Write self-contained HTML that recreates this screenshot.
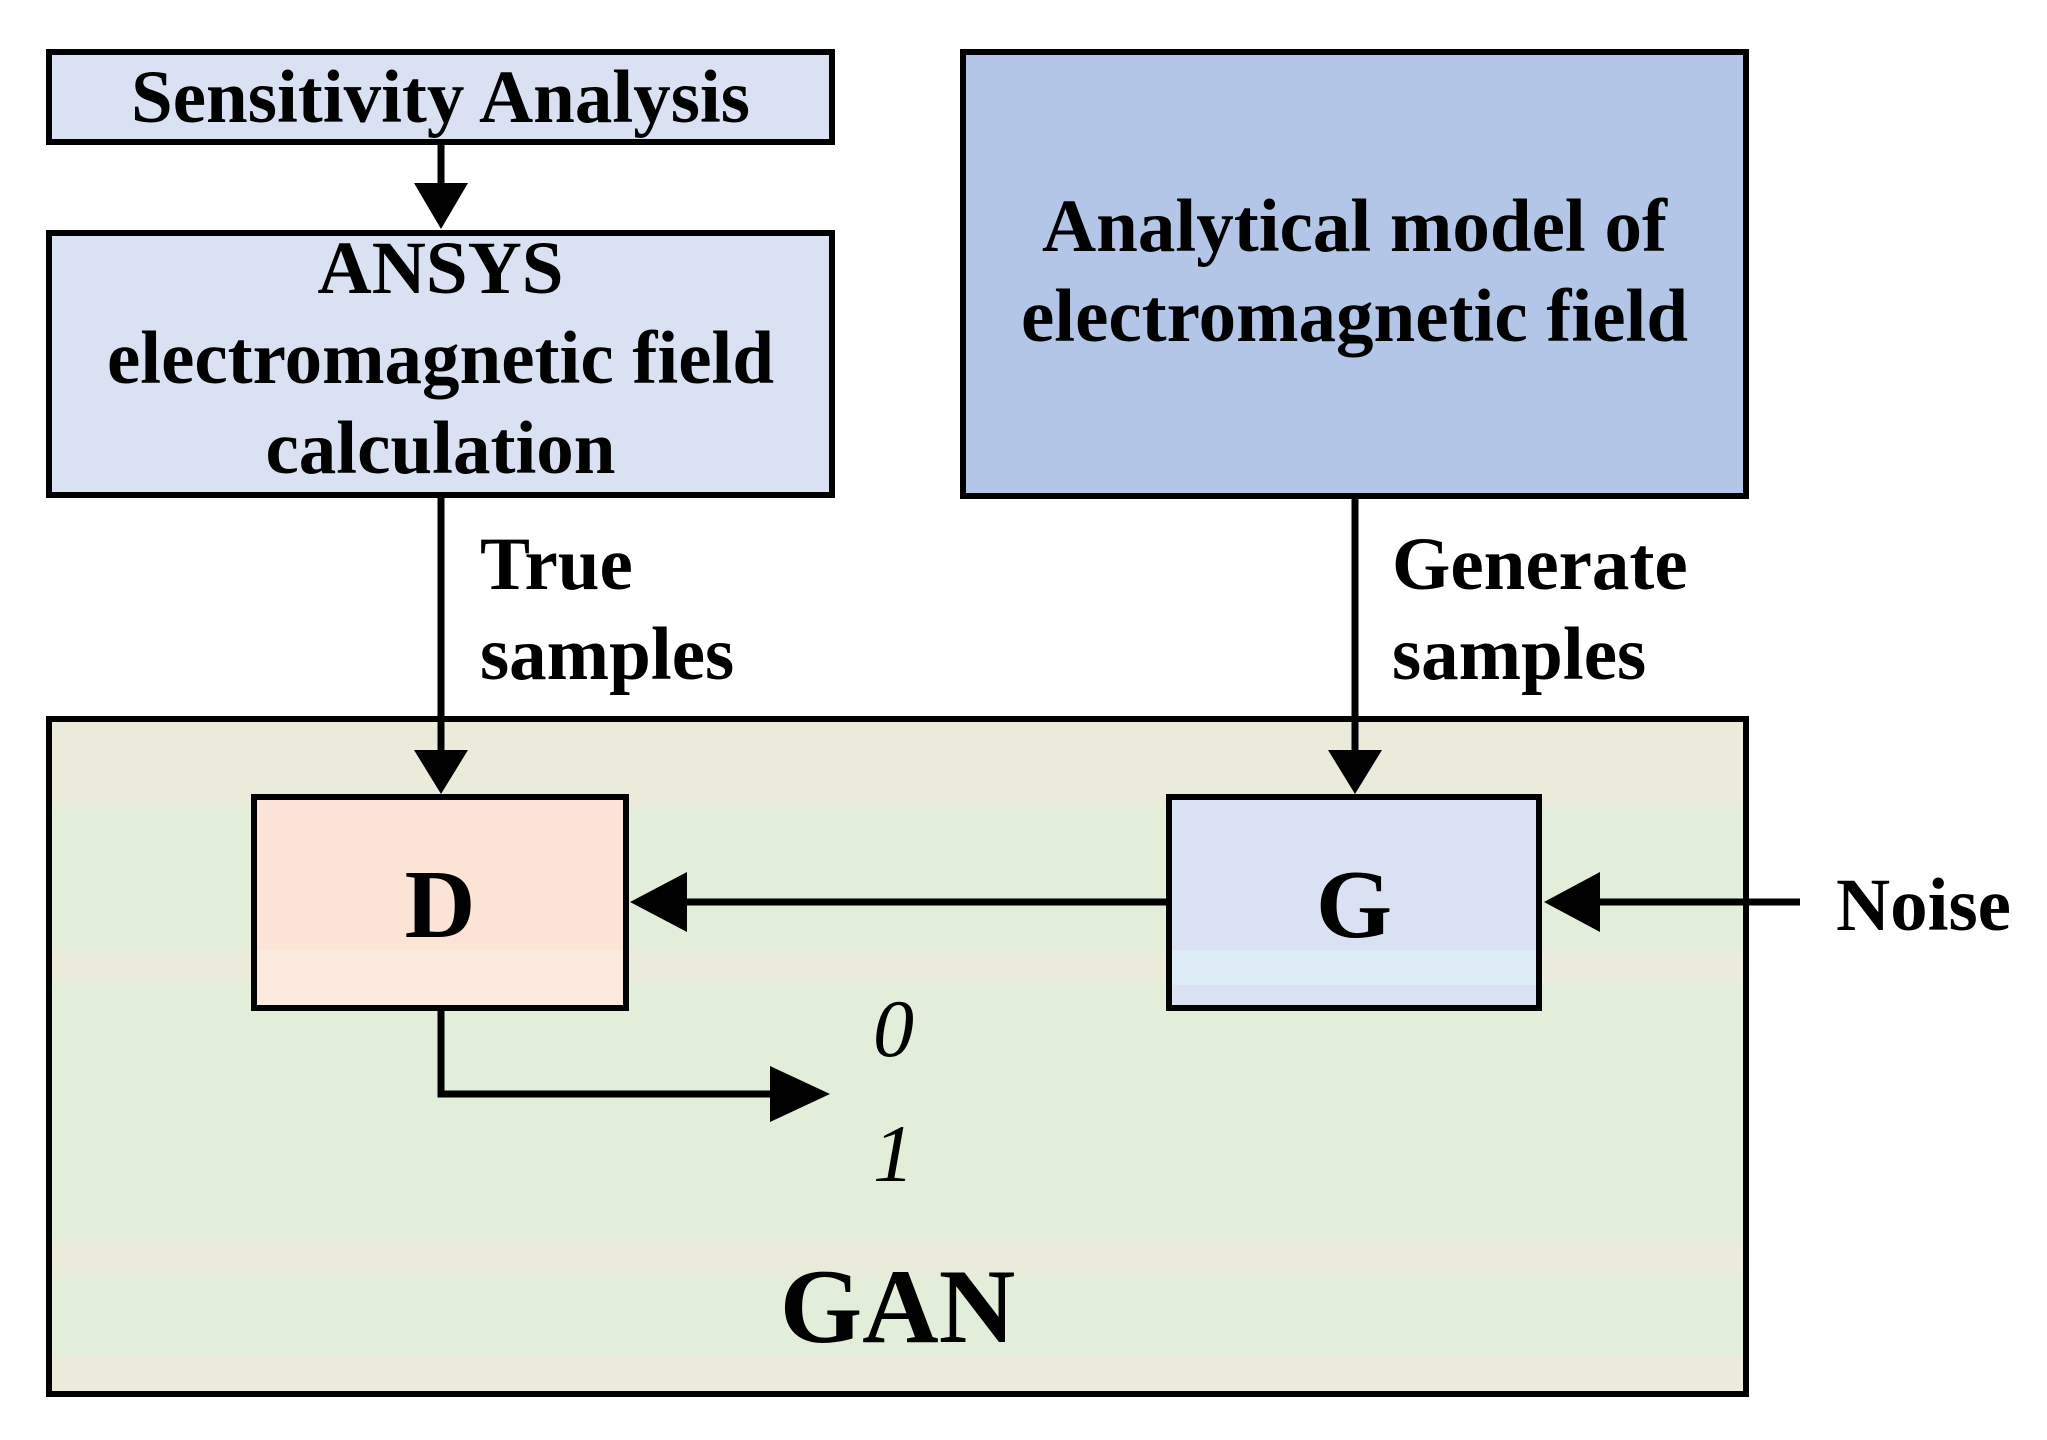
<!DOCTYPE html>
<html><head><style>
body{margin:0;width:2047px;height:1440px;background:#fff;overflow:hidden;position:relative;font-family:"Liberation Serif",serif;font-weight:bold;color:#000}
.b{position:absolute;box-sizing:border-box;border:6px solid #000}
.t{position:absolute;white-space:nowrap;line-height:1}
</style></head><body>
<div class="b" style="left:46px;top:49px;width:789px;height:96px;background:#dae1f3"></div>
<div class="b" style="left:46px;top:230px;width:789px;height:268px;background:#dae1f3"></div>
<div class="b" style="left:960px;top:49px;width:789px;height:450px;background:#b4c6e7"></div>
<div class="b" style="left:46px;top:716px;width:1703px;height:681px;background:linear-gradient(#ebebdb 0,#ebebdb 85px,#e2eed9 85px,#e2eed9 228px,#ebebdb 228px,#ebebdb 262px,#e2eed9 262px,#e2eed9 520px,#ebebdb 520px,#ebebdb 555px,#e2eed9 555px,#e2eed9 634px,#ebebdb 634px)"></div>
<div class="b" style="left:251px;top:794px;width:378px;height:217px;background:linear-gradient(#fbe4d5 0,#fbe4d5 150px,#fdeadf 150px)"></div>
<div class="b" style="left:1166px;top:794px;width:376px;height:217px;background:linear-gradient(#dae1f3 0,#dae1f3 150px,#ddebf7 150px,#ddebf7 185px,#dae1f3 185px)"></div>
<svg style="position:absolute;left:0;top:0" width="2047" height="1440">
<g stroke="#000" stroke-width="7" fill="none">
<line x1="441" y1="145" x2="441" y2="190"/>
<line x1="441" y1="498" x2="441" y2="755"/>
<line x1="1355" y1="498" x2="1355" y2="755"/>
<line x1="1166" y1="902" x2="680" y2="902"/>
<line x1="1800" y1="902" x2="1590" y2="902"/>
<polyline points="441,1011 441,1094 780,1094"/>
</g>
<g fill="#000">
<polygon points="414,183 468,183 441,229"/>
<polygon points="414,750 468,750 441,794"/>
<polygon points="1328,750 1382,750 1355,794"/>
<polygon points="687,872 687,932 630,902"/>
<polygon points="1600,872 1600,932 1544,902"/>
<polygon points="770,1066 770,1122 830,1094"/>
</g>
</svg>
<div class="t" style="left:46px;width:789px;top:60px;text-align:center;font-size:75px">Sensitivity Analysis</div>
<div class="t" style="left:46px;width:789px;top:224px;text-align:center;font-size:75px;line-height:90px">ANSYS<br>electromagnetic field<br>calculation</div>
<div class="t" style="left:960px;width:789px;top:182px;text-align:center;font-size:75px;line-height:90px">Analytical model of<br>electromagnetic field</div>
<div class="t" style="left:480px;top:520px;font-size:75px;line-height:90px">True<br>samples</div>
<div class="t" style="left:1392px;top:520px;font-size:75px;line-height:90px">Generate<br>samples</div>
<div class="t" style="left:1836px;top:868px;font-size:75px">Noise</div>
<div class="t" style="left:251px;width:378px;top:856px;text-align:center;font-size:98px">D</div>
<div class="t" style="left:1166px;width:376px;top:856px;text-align:center;font-size:98px">G</div>
<div class="t" style="left:873px;top:988px;font-size:82px;font-weight:normal;font-style:italic">0</div>
<div class="t" style="left:873px;top:1113px;font-size:82px;font-weight:normal;font-style:italic">1</div>
<div class="t" style="left:46px;width:1703px;top:1254px;text-align:center;font-size:106px">GAN</div>
</body></html>
